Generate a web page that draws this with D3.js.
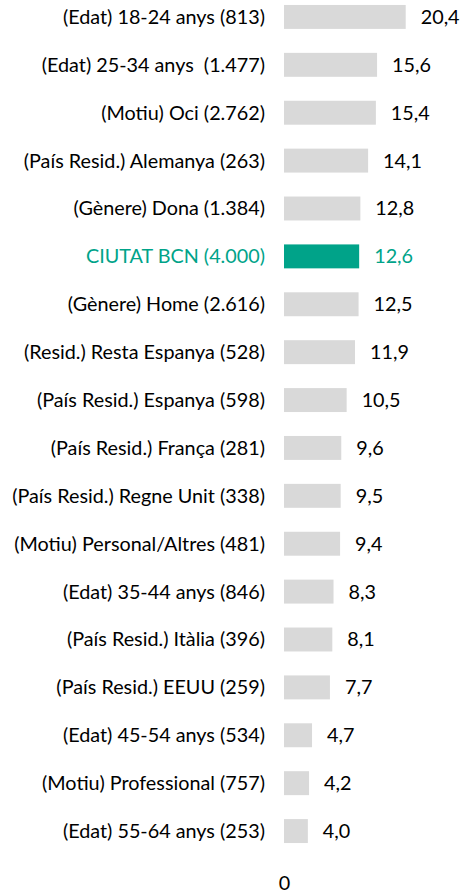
<!DOCTYPE html>
<html>
<head>
<meta charset="utf-8">
<script src="https://cdn.jsdelivr.net/npm/d3@7"></script>
<style>
  body { margin: 0; background: #fff; }
  svg text { font-family: Lato, "Open Sans", sans-serif; white-space: pre; }
</style>
</head>
<body>
<div id="chart"></div>
<script>
// categories, top to bottom
let categories = [
    '(Edat) 18-24 anys (813)',
    '(Edat) 25-34 anys  (1.477)',
    '(Motiu) Oci (2.762)',
    '(País Resid.) Alemanya (263)',
    '(Gènere) Dona (1.384)',
    'CIUTAT BCN (4.000)',
    '(Gènere) Home (2.616)',
    '(Resid.) Resta Espanya (528)',
    '(País Resid.) Espanya (598)',
    '(País Resid.) França (281)',
    '(País Resid.) Regne Unit (338)',
    '(Motiu) Personal/Altres (481)',
    '(Edat) 35-44 anys (846)',
    '(País Resid.) Itàlia (396)',
    '(País Resid.) EEUU (259)',
    '(Edat) 45-54 anys (534)',
    '(Motiu) Professional (757)',
    '(Edat) 55-64 anys (253)'
];
let values = [20.4, 15.6, 15.4, 14.1, 12.8, 12.6, 12.5, 11.9, 10.5, 9.6, 9.5, 9.4, 8.3, 8.1, 7.7, 4.7, 4.2, 4.0];
let highlight = 'CIUTAT BCN (4.000)';
let xTicks = [0];

let w = 461, h = 893;
let fontSize = 19.8;
let grey = '#d9d9d9', green = '#00a389';
let svg = d3.select('#chart').append('svg').attr('width', w).attr('height', h);

let x = d3.scaleLinear().domain([0, 20.4]).range([284, 405.7]);
let y = d3.scaleBand().domain(categories).range([-7, 855]).paddingInner(0.5).paddingOuter(0.25);

let fmt = (v) => d3.format('.1f')(v).replace('.', ',');
let colorOf = (c) => c === highlight ? green : grey;
let textColorOf = (c) => c === highlight ? green : '#000';

//bars
svg.selectAll('rect.bar').data(categories).enter().append('rect')
    .attr('class', 'bar')
    .attr('x', x(0))
    .attr('y', (d) => y(d))
    .attr('width', (d, i) => x(values[i]) - x(0))
    .attr('height', y.bandwidth())
    .attr('fill', colorOf);

//category labels
svg.selectAll('text.cat').data(categories).enter().append('text')
    .attr('class', 'cat')
    .attr('x', 265)
    .attr('y', (d) => y(d) + y.bandwidth() / 2)
    .attr('dy', '0.35em')
    .attr('text-anchor', 'end')
    .attr('font-size', fontSize)
    .attr('fill', textColorOf)
    .text((d) => d);

//value labels
svg.selectAll('text.val').data(categories).enter().append('text')
    .attr('class', 'val')
    .attr('y', (d) => y(d) + y.bandwidth() / 2)
    .attr('dy', '0.35em')
    .attr('font-size', fontSize)
    .attr('fill', textColorOf)
    .text((d, i) => fmt(values[i]))
    .attr('x', function(d, i) {
        let tw = this.getComputedTextLength();
        return Math.min(x(values[i]) + 15, w - tw - 1);
    });

//x axis tick label only
let xAxis = d3.axisBottom(x).tickValues(xTicks).tickSize(0).tickFormat(d3.format('d'));
let gx = svg.append('g').attr('transform', 'translate(0,873)').call(xAxis);
gx.select('.domain').remove();
gx.selectAll('text').attr('font-size', fontSize).attr('fill', '#000')
    .style('font-family', 'Lato, "Open Sans", sans-serif');
</script>
</body>
</html>
